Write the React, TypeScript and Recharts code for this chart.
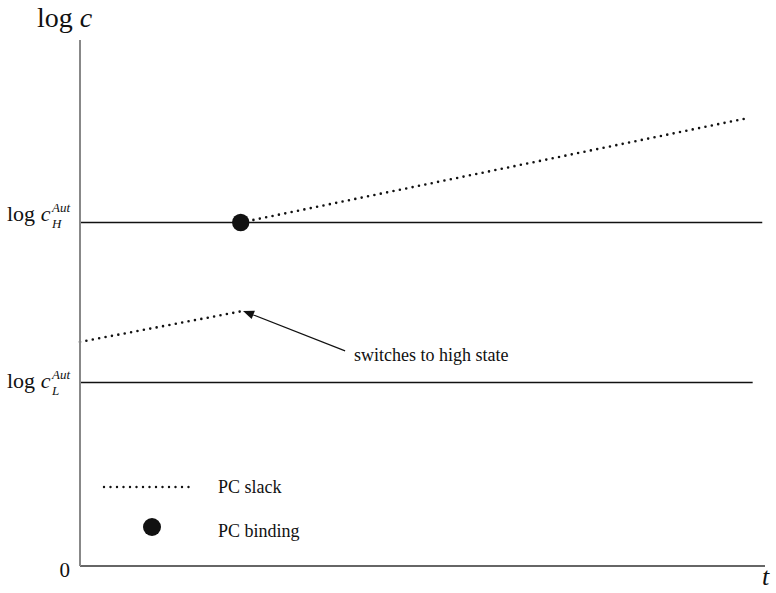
import React from 'react';
import { ComposedChart, Line, Scatter, XAxis, YAxis, ReferenceLine } from 'recharts';

// time axis runs 0..100, log-consumption axis runs 0..100
const switchTime = 23.46;
const slackTimes = [0, switchTime, 96.9];
const slackBefore = [42.6, 48.4];          // PC slack, low state
const slackAfter = [65.3, 85.0];           // PC slack, after switching
const bindingPoint = { t: switchTime, v: 65.3 };

const levelKeys = ['0', 'L', 'H'];
const levelValues = [0, 34.9, 65.3];
const levelEnds = [0, 98.2, 99.6];

const arrowFrom = { x: 38.7, y: 40.9 };
const arrowTo = { x: 23.8, y: 48.5 };
const arrowText = 'switches to high state';

const legendSlack = 'PC slack';
const legendBinding = 'PC binding';

const data = [
  { t: slackTimes[0], before: slackBefore[0] },
  { t: slackTimes[1], before: slackBefore[1], after: slackAfter[0] },
  { t: slackTimes[2], after: slackAfter[1] },
];

const serif = '"Liberation Serif", "Times New Roman", serif';
const DOTS = '0 6.5';

const LevelTick = (props: any) => {
  const { y, payload } = props;
  const idx = levelValues.indexOf(payload.value);
  const key = levelKeys[idx];
  if (key === '0') {
    return (
      <text x={70} y={y + 11} textAnchor="end" fontFamily={serif} fontSize={21} fill="#111">0</text>
    );
  }
  const base = key === 'H' ? y - 2 : y + 6;
  return (
    <g fontFamily={serif} fill="#111">
      <text x={7} y={base} fontSize={22}>
        <tspan>log </tspan>
        <tspan fontStyle="italic">c</tspan>
      </text>
      <text x={52} y={base - 9} fontSize={13} fontStyle="italic">Aut</text>
      <text x={52} y={base + 7} fontSize={13} fontStyle="italic">{key}</text>
    </g>
  );
};

const Arrow = (props: any) => {
  const { x1, y1, x2, y2 } = props;
  const ang = Math.atan2(y2 - y1, x2 - x1);
  const len = 11;
  const half = 4.5;
  const bx = x2 - len * Math.cos(ang);
  const by = y2 - len * Math.sin(ang);
  const px = -Math.sin(ang) * half;
  const py = Math.cos(ang) * half;
  return (
    <g>
      <line x1={x1} y1={y1} x2={bx} y2={by} stroke="#111" strokeWidth={1.1} />
      <polygon points={`${x2},${y2} ${bx + px},${by + py} ${bx - px},${by - py}`} fill="#111" />
      <text x={x1 + 9} y={y1 + 10} fontFamily={serif} fontSize={18} fill="#111">{arrowText}</text>
    </g>
  );
};

const BindingDot = (props: any) => (
  <circle cx={props.cx} cy={props.cy} r={8.7} fill="#111" />
);

export default function App() {
  return (
    <div style={{ position: 'absolute', left: 0, top: 0, width: 776, height: 593, background: '#fff' }}>
      <ComposedChart width={776} height={593} data={data} margin={{ top: 40, right: 11, bottom: 0, left: 0 }}>
        <XAxis
          dataKey="t"
          type="number"
          domain={[0, 100]}
          height={27}
          tick={false}
          tickLine={false}
          axisLine={{ stroke: '#333', strokeWidth: 1.5 }}
        />
        <YAxis
          type="number"
          domain={[0, 100]}
          width={80}
          ticks={levelValues}
          tick={<LevelTick />}
          tickLine={false}
          axisLine={{ stroke: '#888', strokeWidth: 2 }}
        />
        {levelValues.slice(1).map((v, i) => (
          <ReferenceLine
            key={levelKeys[i + 1]}
            segment={[{ x: 0, y: v }, { x: levelEnds[i + 1], y: v }]}
            stroke="#111"
            strokeWidth={1.4}
          />
        ))}
        <ReferenceLine segment={[arrowFrom, arrowTo]} shape={<Arrow />} />
        <Line
          dataKey="before"
          stroke="#111"
          strokeWidth={2.6}
          strokeDasharray={DOTS}
          strokeLinecap="round"
          dot={false}
          activeDot={false}
          connectNulls={false}
          isAnimationActive={false}
        />
        <Line
          dataKey="after"
          stroke="#111"
          strokeWidth={2.6}
          strokeDasharray={DOTS}
          strokeLinecap="round"
          dot={false}
          activeDot={false}
          connectNulls={false}
          isAnimationActive={false}
        />
        <Scatter
          data={[bindingPoint]}
          dataKey="v"
          shape={<BindingDot />}
          isAnimationActive={false}
        />
      </ComposedChart>

      {/* axis titles */}
      <svg width={776} height={593} style={{ position: 'absolute', left: 0, top: 0, pointerEvents: 'none' }}>
        <text x={37} y={27} fontFamily={serif} fontSize={28} fill="#111">
          <tspan>log </tspan>
          <tspan fontStyle="italic">c</tspan>
        </text>
        <text x={762} y={585} fontFamily={serif} fontSize={26} fontStyle="italic" fill="#111">t</text>

        {/* legend */}
        <line x1={104} y1={487} x2={191} y2={487} stroke="#111" strokeWidth={2.4}
          strokeDasharray={DOTS} strokeLinecap="round" />
        <text x={218} y={493} fontFamily={serif} fontSize={18} fill="#111">{legendSlack}</text>
        <circle cx={152} cy={527} r={9} fill="#111" />
        <text x={218} y={537} fontFamily={serif} fontSize={18} fill="#111">{legendBinding}</text>
      </svg>
    </div>
  );
}
